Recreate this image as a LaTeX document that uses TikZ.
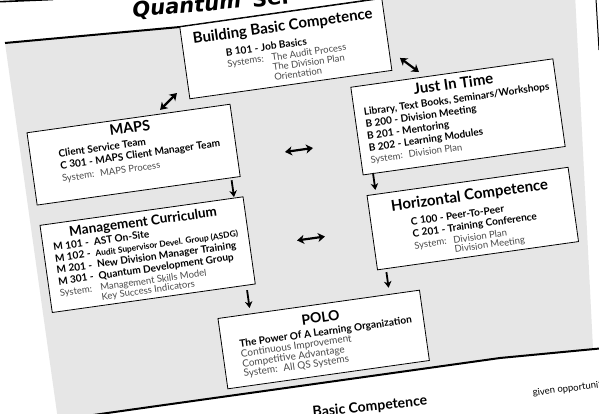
\documentclass[tikz,border=0pt]{standalone}
\usepackage{fontspec}
\setmainfont{Lato}
\newfontfamily\titlefont{DejaVu Sans}
\usetikzlibrary{arrows.meta}
\definecolor{panelgray}{HTML}{E6E6E6}
\definecolor{systxt}{HTML}{4A4A4A}
\newcommand{\fSub}{\fontsize{10.1}{12}\selectfont\bfseries}
\newcommand{\fSmall}{\fontsize{8.4}{12}\selectfont\bfseries}
\newcommand{\fSys}{\fontsize{9.5}{12}\selectfont\mdseries\color{systxt}}
\newcommand{\fSysL}{\fontsize{10}{12}\selectfont\mdseries\color{systxt}}
\tikzset{
  boxnode/.style={draw=black, line width=0.8pt, fill=white, inner sep=0pt},
  titlenode/.style={anchor=base, inner sep=0pt, font=\fontsize{15}{17}\selectfont\bfseries},
  blocknode/.style={anchor=base, inner sep=0pt, font=\fontsize{10}{12}\selectfont},
  dblarrow/.style={line width=2.2pt, {Stealth[length=7pt,width=9pt,inset=2pt]}-{Stealth[length=7pt,width=9pt,inset=2pt]}},
  downarrow/.style={line width=1.8pt, -{Stealth[length=6.5pt,width=7.5pt,inset=2pt]}},
  thickedge/.style={line width=2pt, line join=round}
}
\begin{document}
\begin{tikzpicture}[x=1pt,y=1pt]
\useasboundingbox (0,0) rectangle (599,414);
\clip (0,0) rectangle (599,414);
\fill[white] (0,0) rectangle (599,414);
% grey panel of the page
\fill[panelgray] (5,371) -- (180,387) -- (378,415) -- (378,420) -- (575,420) -- (593,65) -- (500,56) -- (150,7) -- (58,-6) -- cycle;
\draw[thickedge] (5,371) -- (180,387) -- (378,415);
\draw[thickedge] (58,-6) -- (150,7) -- (500,56) -- (605,66);
\draw[line width=1.6pt] (0,412.3) -- (53,414.5);
\draw[line width=1pt] (596,415) -- (599,364);
% page texts
\node[anchor=base west, rotate=5, inner sep=0pt, font=\titlefont\fontsize{21}{24}\selectfont\bfseries] (pagetitle) at (133,396.5) {\itshape Quantum\hspace{11pt}\upshape Ser};
\node[anchor=base west, rotate=6, inner sep=0pt, font=\fontsize{14}{16}\selectfont\bfseries] (bottomtitle) at (313,-3) {Basic Competence};
\node[anchor=base west, rotate=7, inner sep=0pt, font=\fontsize{9.5}{11}\selectfont] (bottomtext) at (533,18) {given opportunit};
\begin{scope}[shift={(300,207)}, rotate=8, transform shape]
  % boxes
  \node[boxnode, minimum width=204pt, minimum height=72.5pt] (bbc) at (8,158.75) {};
  \node[boxnode, minimum width=205pt, minimum height=73pt] (maps) at (-157.5,75) {};
  \node[boxnode, minimum width=205pt, minimum height=88pt] (mc) at (-157.5,-26) {};
  \node[boxnode, minimum width=204pt, minimum height=88.5pt] (jit) at (169,67.25) {};
  \node[boxnode, minimum width=203pt, minimum height=75pt] (hc) at (169.5,-35.5) {};
  \node[boxnode, minimum width=203.5pt, minimum height=71pt] (polo) at (5,-134.5) {};
  % titles
  \node[titlenode] (bbcT) at (8,176.4) {Building Basic Competence};
  \node[titlenode, font=\fontsize{14.5}{17}\selectfont\bfseries] (mapsT) at (-157.5,97) {MAPS};
  \node[titlenode, font=\fontsize{13.5}{16}\selectfont\bfseries] (mcT) at (-157.5,2.6) {Management Curriculum};
  \node[titlenode] (jitT) at (169,95.2) {Just In Time};
  \node[titlenode] (hcT) at (169.5,-17) {Horizontal Competence};
  \node[titlenode, font=\fontsize{14}{16}\selectfont\bfseries] (poloT) at (5,-117.2) {POLO};
  % text blocks
  \node[blocknode] (bbcB) at (8,159.6) {\begin{tabular}[t]{@{}l@{\hspace{8pt}}l@{}}
    \multicolumn{2}{@{}l@{}}{\fSub B 101 - Job Basics}\\[-1pt]
    \fSys Systems: & \fSys The Audit Process\\[-2pt]
     & \fSys The Division Plan\\[-2pt]
     & \fSys Orientation
  \end{tabular}};
  \node[blocknode] (mapsB) at (-151,82.8) {\begin{tabular}[t]{@{}l@{}}
    \fSub Client Service Team\\
    \fSub C 301 - MAPS Client Manager Team\\[1pt]
    \fSys System:\hspace{6pt}MAPS Process
  \end{tabular}};
  \node[blocknode] (mcB) at (-157.5,-9.2) {\begin{tabular}[t]{@{}l@{\hspace{5pt}}l@{}}
    \fSub M 101 - & \fSub AST On-Site\\[-0.5pt]
    \fSub M 102 - & \fSmall Audit Supervisor Devel. Group (ASDG)\\[-0.5pt]
    \fSub M 201 - & \fSub New Division Manager Training\\[-0.5pt]
    \fSub M 301 - & \fSub Quantum Development Group\\[-0.5pt]
    \fSys System: & \fSys Management Skills Model\\[-2.5pt]
     & \fSys Key Success Indicators
  \end{tabular}};
  \node[blocknode] (jitB) at (170,81.5) {\begin{tabular}[t]{@{}l@{}}
    \fSub Library, Text Books, Seminars/Workshops\\
    \fSub B 200 - Division Meeting\\
    \fSub B 201 - Mentoring\\
    \fSub B 202 - Learning Modules\\
    \fSys System:\hspace{6pt}Division Plan
  \end{tabular}};
  \node[blocknode] (hcB) at (170.5,-33.6) {\begin{tabular}[t]{@{}l@{\hspace{7pt}}l@{}}
    \multicolumn{2}{@{}l@{}}{\fSub C 100 - Peer-To-Peer}\\
    \multicolumn{2}{@{}l@{}}{\fSub C 201 - Training Conference}\\
    \fSys System: & \fSys Division Plan\\[-2.5pt]
     & \fSys Division Meeting
  \end{tabular}};
  \node[blocknode] (poloB) at (8,-130.5) {\begin{tabular}[t]{@{}l@{}}
    \fSub The Power Of A Learning Organization\\[-2pt]
    \fSysL Continuous Improvement\\[-2pt]
    \fSysL Competitive Advantage\\[-2pt]
    \fSysL System:\hspace{6pt}All QS Systems
  \end{tabular}};
  % arrow end points
  \coordinate (d1a) at (-125,115.6);   \coordinate (d1b) at (-106,130);
  \coordinate (d2a) at (119.7,133.7);  \coordinate (d2b) at (136.6,117.1);
  \coordinate (h1a) at (-7.2,56.6);    \coordinate (h1b) at (21.1,56.6);
  \coordinate (h2a) at (-7.6,-32.7);   \coordinate (h2b) at (20.6,-32.7);
  \coordinate (v1a) at (-64,36);       \coordinate (v1b) at (-64,19);
  \coordinate (v2a) at (77,23.5);      \coordinate (v2b) at (77,6.4);
  \coordinate (v3a) at (-64,-75);      \coordinate (v3b) at (-64,-93);
  \coordinate (v4a) at (76.5,-76.5);   \coordinate (v4b) at (76.5,-92.3);
  % arrows
  \draw[dblarrow] (d1a) -- (d1b);
  \draw[dblarrow] (d2a) -- (d2b);
  \draw[dblarrow] (h1a) -- (h1b);
  \draw[dblarrow] (h2a) -- (h2b);
  \draw[downarrow] (v1a) -- (v1b);
  \draw[downarrow] (v2a) -- (v2b);
  \draw[downarrow] (v3a) -- (v3b);
  \draw[downarrow] (v4a) -- (v4b);
\end{scope}
\end{tikzpicture}
\end{document}
